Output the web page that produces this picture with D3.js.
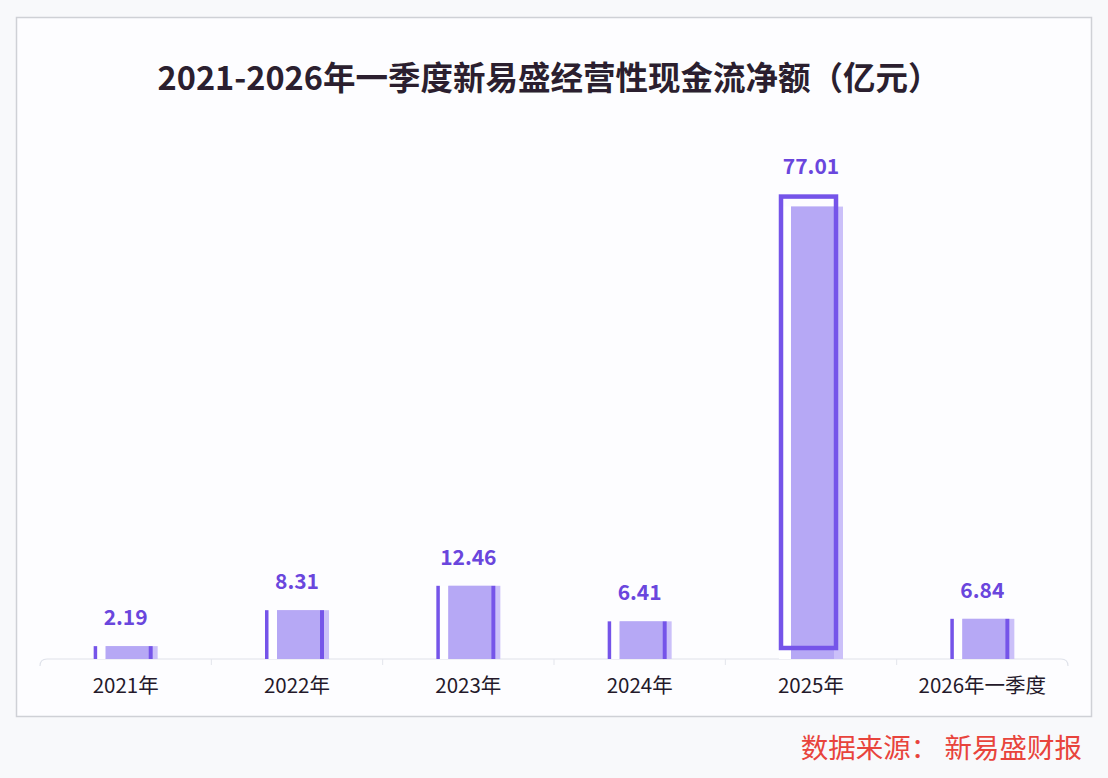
<!DOCTYPE html>
<html>
<head>
<meta charset="utf-8">
<script src="https://cdn.jsdelivr.net/npm/d3@7"></script>
<style>
  html, body { margin: 0; padding: 0; background: #f8f9fb; }
  svg { display: block; }
</style>
</head>
<body>
<script>
// chart data
var categories = ['2021年', '2022年', '2023年', '2024年', '2025年', '2026年一季度'];
var values = [2.19, 8.31, 12.46, 6.41, 77.01, 6.84];
var valueLabels = ['2.19', '8.31', '12.46', '6.41', '77.01', '6.84'];
var titleText = '2021-2026年一季度新易盛经营性现金流净额（亿元）';
var sourceText = '数据来源： 新易盛财报';

var W = 1108, H = 778;
var dark = '#7554e9', fill = '#b6a8f5', fade = '#cbc0f9', labelColor = '#6a46dd';
var font = '"Noto Sans CJK SC", "Noto Sans", sans-serif';

var svg = d3.select('body').append('svg')
	.attr('width', W)
	.attr('height', H);

// panel
svg.append('rect')
	.attr('x', 16.5).attr('y', 17.5)
	.attr('width', 1075).attr('height', 699)
	.attr('fill', '#fdfdff')
	.attr('stroke', '#cfd1d6')
	.attr('stroke-width', 1.5);

svg.append('text')
	.attr('x', 549).attr('y', 90)
	.attr('text-anchor', 'middle')
	.attr('font-family', font)
	.attr('font-weight', 700)
	.attr('font-size', 32.5)
	.attr('fill', '#2b1f2f')
	.text(titleText);

var x = d3.scaleBand().domain(categories).range([40, 1068]);
var y = d3.scaleLinear().domain([0, 80]).range([659, 189]);
var barW = 64;
var maxIdx = values.indexOf(d3.max(values));

// axis baseline with rounded ends
var x0 = x.range()[0], x1 = x.range()[1], base = y(0);
svg.append('path')
	.attr('d', 'M' + x0 + ',' + (base + 7) + 'Q' + x0 + ',' + base + ' ' + (x0 + 7) + ',' + base +
		'H' + (x1 - 7) + 'Q' + x1 + ',' + base + ' ' + x1 + ',' + (base + 7))
	.attr('fill', 'none')
	.attr('stroke', '#dfe2ea')
	.attr('stroke-width', 1.2);

// faint ticks between categories
svg.append('g').selectAll('line')
	.data(categories.slice(1))
	.join('line')
	.attr('x1', function(d) { return x(d); })
	.attr('x2', function(d) { return x(d); })
	.attr('y1', base).attr('y2', base + 6)
	.attr('stroke', '#e3e5ec');

var bars = svg.append('g').selectAll('g')
	.data(values)
	.join('g')
	.attr('transform', function(d, i) {
		return 'translate(' + (x(categories[i]) + x.bandwidth() / 2 - barW / 2) + ',0)';
	});

// white gap behind left stripe, main fill + faded right edge
bars.append('rect')
	.attr('x', 0).attr('width', 12)
	.attr('y', function(d) { return y(d); })
	.attr('height', function(d) { return base - y(d); })
	.attr('fill', '#ffffff');
bars.append('rect')
	.attr('x', 12).attr('width', barW - 12)
	.attr('y', function(d) { return y(d); })
	.attr('height', function(d) { return base - y(d); })
	.attr('fill', fade);
bars.append('rect')
	.attr('x', 12).attr('width', barW - 21)
	.attr('y', function(d) { return y(d); })
	.attr('height', function(d) { return base - y(d); })
	.attr('fill', fill);

bars.each(function(d, i) {
	var g = d3.select(this);
	if (i === maxIdx) {
		// highlighted bar: frame lifted above the fill
		g.append('rect')
			.attr('x', 2).attr('width', 55)
			.attr('y', y(d) - 10)
			.attr('height', base - y(d) - 1)
			.attr('fill', 'none')
			.attr('stroke', dark)
			.attr('stroke-width', 4.5);
	} else {
		g.append('rect')
			.attr('x', 0).attr('width', 3.5)
			.attr('y', y(d)).attr('height', base - y(d))
			.attr('fill', dark);
		g.append('rect')
			.attr('x', 55).attr('width', 4)
			.attr('y', y(d)).attr('height', base - y(d))
			.attr('fill', dark);
	}
});

// value labels
svg.append('g').selectAll('text')
	.data(values)
	.join('text')
	.attr('x', function(d, i) { return x(categories[i]) + x.bandwidth() / 2; })
	.attr('y', function(d, i) { return y(d) - (i === maxIdx ? 33 : 21); })
	.attr('text-anchor', 'middle')
	.attr('font-family', font)
	.attr('font-weight', 700)
	.attr('font-size', 21)
	.attr('fill', labelColor)
	.text(function(d, i) { return valueLabels[i]; });

// category labels
svg.append('g').selectAll('text')
	.data(categories)
	.join('text')
	.attr('x', function(d) { return x(d) + x.bandwidth() / 2; })
	.attr('y', 693)
	.attr('text-anchor', 'middle')
	.attr('font-family', font)
	.attr('font-size', 20.5)
	.attr('fill', '#24192a')
	.text(function(d) { return d; });

svg.append('text')
	.attr('x', 1082).attr('y', 758)
	.attr('text-anchor', 'end')
	.attr('font-family', font)
	.attr('font-size', 27.5)
	.attr('fill', '#e8443c')
	.text(sourceText);
</script>
</body>
</html>
